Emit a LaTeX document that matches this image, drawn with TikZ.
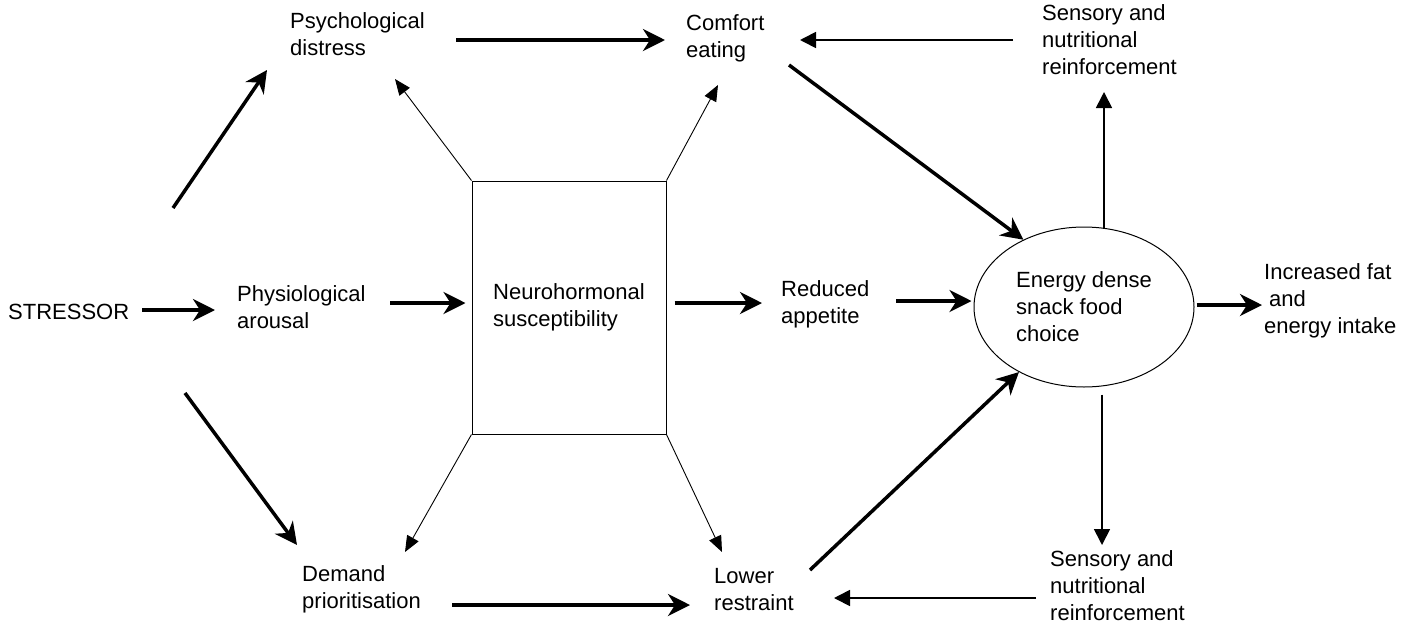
\documentclass[tikz,border=0pt]{standalone}
\usepackage{fontspec}
\setmainfont{Liberation Sans}
\usetikzlibrary{arrows.meta,calc,shapes.geometric}
\begin{document}
\begin{tikzpicture}[x=1pt,y=-1pt,
  txt/.style={font=\fontsize{22}{27}\selectfont},
  lbl/.style={txt,anchor=west,inner sep=0pt,align=left},
  bold/.style={line width=3.5pt,-{Stealth[length=22pt,width=22pt,inset=7pt]}},
  thinarrow/.style={line width=0.9pt,-{Triangle[length=16pt,width=13pt]}},
  midarrow/.style={line width=1.7pt,-{Triangle[length=16pt,width=16pt]}}]
\useasboundingbox (0,0) rectangle (1411,630);

% labels
\node[lbl] (stressor) at (8,312) {STRESSOR};
\node[lbl] (phys) at (237,307) {Physiological\\arousal};
\node[lbl] (psych) at (290,34) {Psychological\\distress};
\node[lbl] (comfort) at (686,38) {Comfort\\eating};
\node[lbl] (sensup) at (1042,40) {Sensory and\\nutritional\\reinforcement};
\node[lbl] (reduced) at (781,304) {Reduced\\appetite};
\node[lbl] (incr) at (1264,301) {Increased fat\\\hspace*{5pt}and\\energy intake};
\node[lbl] (demand) at (302,589) {Demand\\prioritisation};
\node[lbl] (lower) at (714,590) {Lower\\restraint};
\node[lbl] (sensdn) at (1050,586) {Sensory and\\nutritional\\reinforcement};

% central box and outcome ellipse
\node[draw,line width=1pt,minimum width=194pt,minimum height=253pt,inner sep=0pt,
      txt,align=left] (box) at (569,307.5) {Neurohormonal\\susceptibility};
\node[draw,ellipse,line width=1pt,minimum width=220pt,minimum height=160pt,inner sep=0pt,
      txt,align=left] (ell) at (1084,307) {Energy dense\\snack food\\choice};

% start points of the horizontal arrows
\coordinate (s1) at ($(stressor.west)+(134,-2)$);
\coordinate (s2) at ($(phys.west)+(153,-4)$);
\coordinate (s3) at ($(box.east)+(8,-4.5)$);
\coordinate (s4) at ($(reduced.west)+(115,-3)$);
\coordinate (s5) at ($(ell.east)+(2,-2)$);
\coordinate (s6) at ($(psych.west)+(166,6)$);
\coordinate (s7) at ($(demand.west)+(150,16)$);

% main pathway arrows
\draw[bold,shorten >=22pt] (s1) -- (s1 -| phys.west);
\draw[bold,shorten >=6pt] (s2) -- (s2 -| box.west);
\draw[bold,shorten >=19pt] (s3) -- (s3 -| reduced.west);
\draw[bold,shorten >=2pt] (s4) -- (s4 -| ell.west);
\draw[bold,shorten >=2pt] (s5) -- (s5 -| incr.west);
\draw[bold,shorten >=21pt] (s6) -- (s6 -| comfort.west);
\draw[bold,shorten >=24pt] (s7) -- (s7 -| lower.west);
\draw[bold] ($(stressor.west)+(165,-104)$) -- ($(psych.west)+(-23,36)$);
\draw[bold] ($(stressor.west)+(177,81)$) -- ($(demand.west)+(-5,-44)$);
\draw[bold] ($(comfort.west)+(103,27)$) -- (ell.132);
\draw[bold] ($(lower.west)+(96,-20)$) -- (ell.225);

% susceptibility links from the box corners
\draw[thinarrow] (box.north west) -- ($(psych.west)+(105,45)$);
\draw[thinarrow] (box.north east) -- ($(comfort.west)+(32,47)$);
\draw[thinarrow] (box.south west) -- ($(demand.west)+(103,-37)$);
\draw[thinarrow] (box.south east) -- ($(lower.west)+(8,-38)$);

% reinforcement loops
\draw[midarrow] ($(ell.north)+(20,1.5)$) -- ($(sensup.west)+(62,52)$);
\draw[midarrow,shorten <=29pt] (sensup.west) -- ($(comfort.west)+(114,2)$);
\draw[midarrow] ($(ell.south)+(18,7)$) -- ($(sensdn.west)+(52,-41)$);
\draw[midarrow] ($(sensdn.west)+(-14,12)$) -- ($(lower.west)+(120,8)$);
\end{tikzpicture}
\end{document}
